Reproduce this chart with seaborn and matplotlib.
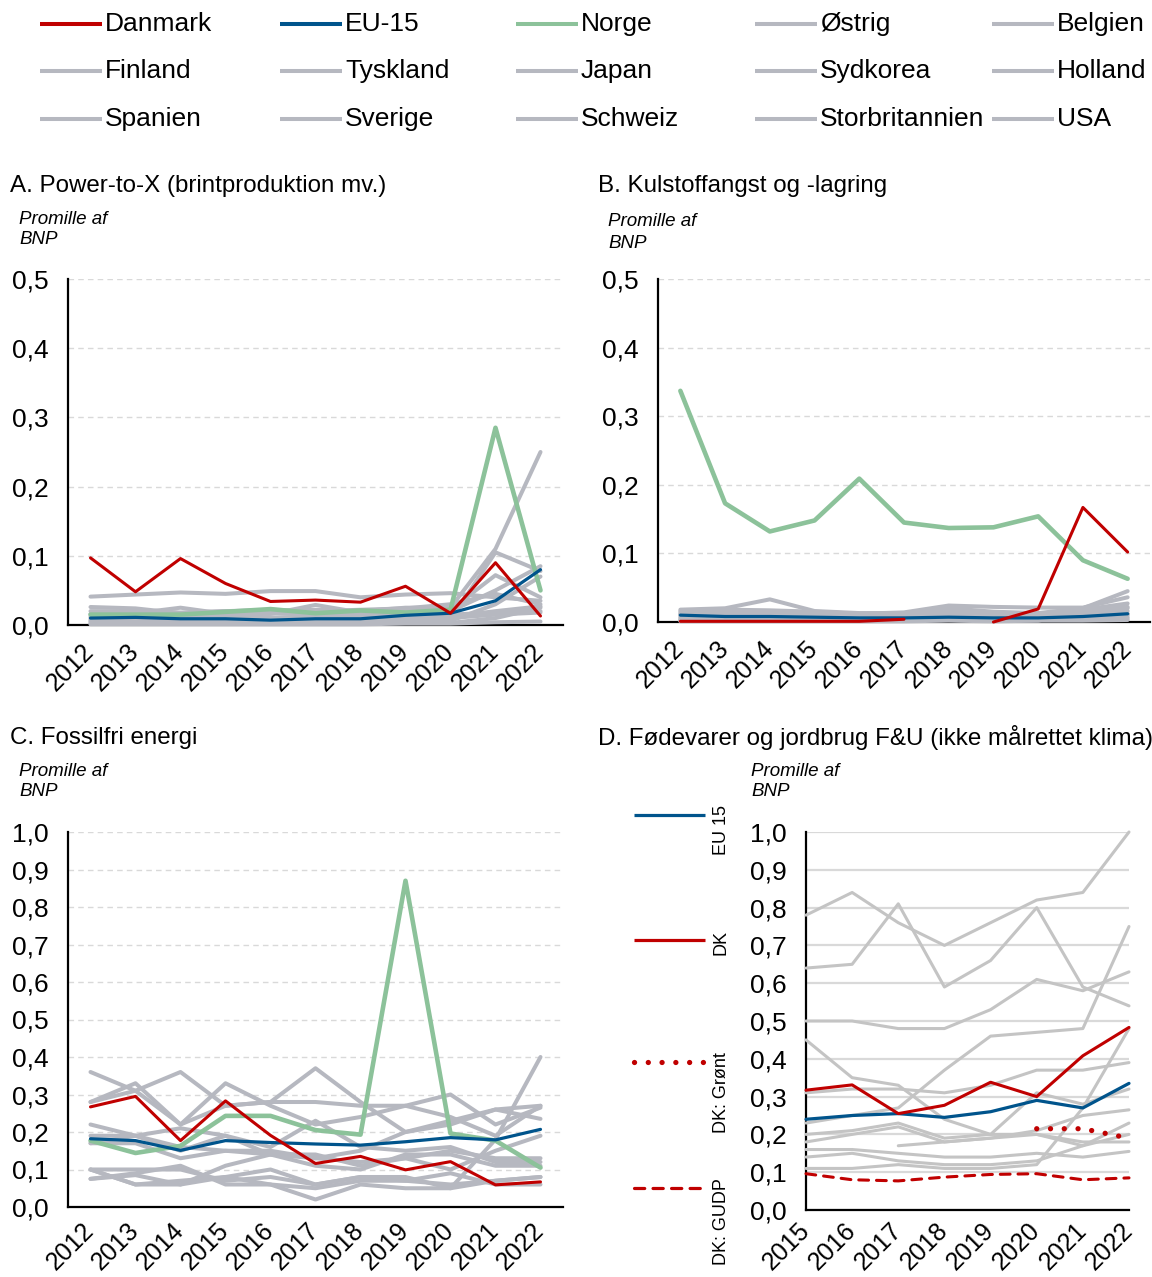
import numpy as np
import pandas as pd
import matplotlib
matplotlib.use("Agg")
import matplotlib.pyplot as plt
from matplotlib.lines import Line2D
from matplotlib.ticker import FuncFormatter
import seaborn as sns

# ---- data (promille af BNP) ----
years = list(range(2012, 2023))
years_d = list(range(2015, 2023))

grey_countries = ["Østrig", "Belgien", "Finland", "Tyskland", "Japan", "Sydkorea",
                  "Holland", "Spanien", "Sverige", "Schweiz", "Storbritannien", "USA"]

# A. Power-to-X
a_danmark = [0.097, 0.048, 0.096, 0.060, 0.034, 0.036, 0.033, 0.056, 0.017, 0.090, 0.013]
a_eu15 = [0.010, 0.011, 0.009, 0.009, 0.007, 0.009, 0.009, 0.014, 0.017, 0.035, 0.080]
a_norge = [0.015, 0.015, 0.015, 0.019, 0.023, 0.017, 0.021, 0.018, 0.022, 0.285, 0.050]
a_others = [
    [0.041, 0.044, 0.047, 0.045, 0.049, 0.049, 0.040, 0.044, 0.046, 0.040, 0.035],
    [0.026, 0.024, 0.017, 0.020, 0.020, 0.022, 0.020, 0.025, 0.025, 0.110, 0.250],
    [0.005, 0.004, 0.004, 0.005, 0.004, 0.004, 0.005, 0.006, 0.008, 0.105, 0.078],
    [0.016, 0.017, 0.025, 0.016, 0.016, 0.029, 0.018, 0.020, 0.022, 0.072, 0.040],
    [0.010, 0.012, 0.013, 0.015, 0.018, 0.014, 0.016, 0.018, 0.020, 0.050, 0.085],
    [0.020, 0.020, 0.018, 0.020, 0.022, 0.020, 0.022, 0.024, 0.030, 0.045, 0.030],
    [0.003, 0.003, 0.004, 0.005, 0.003, 0.003, 0.004, 0.005, 0.006, 0.030, 0.070],
    [0.002, 0.002, 0.002, 0.003, 0.003, 0.002, 0.003, 0.003, 0.003, 0.010, 0.025],
    [0.006, 0.006, 0.007, 0.008, 0.006, 0.007, 0.008, 0.010, 0.012, 0.020, 0.027],
    [0.001, 0.001, 0.001, 0.001, 0.001, 0.001, 0.001, 0.002, 0.002, 0.004, 0.005],
    [0.008, 0.008, 0.009, 0.010, 0.009, 0.010, 0.011, 0.012, 0.010, 0.015, 0.018],
    [0.012, 0.012, 0.011, 0.012, 0.011, 0.012, 0.013, 0.014, 0.015, 0.018, 0.020],
]

# B. Kulstoffangst og -lagring
b_danmark = [0.001, 0.001, 0.001, 0.001, 0.001, 0.004, np.nan, 0.000, 0.019, 0.167, 0.102]
b_eu15 = [0.010, 0.008, 0.008, 0.007, 0.006, 0.006, 0.007, 0.006, 0.006, 0.008, 0.012]
b_norge = [0.337, 0.173, 0.132, 0.148, 0.209, 0.145, 0.137, 0.138, 0.154, 0.090, 0.063]
b_others = [
    [0.018, 0.020, 0.033, 0.016, 0.013, 0.013, 0.020, 0.015, 0.013, 0.020, 0.045],
    [0.016, 0.018, 0.017, 0.015, 0.012, 0.014, 0.024, 0.022, 0.021, 0.021, 0.036],
    [0.012, 0.012, 0.012, 0.010, 0.010, 0.008, 0.014, 0.010, 0.012, 0.018, 0.027],
    [0.010, 0.011, 0.010, 0.009, 0.008, 0.009, 0.015, 0.012, 0.010, 0.012, 0.020],
    [0.008, 0.008, 0.008, 0.008, 0.007, 0.008, 0.010, 0.008, 0.008, 0.010, 0.016],
    [0.006, 0.006, 0.006, 0.005, 0.005, 0.006, 0.008, 0.006, 0.006, 0.008, 0.012],
    [0.004, 0.005, 0.005, 0.004, 0.004, 0.004, 0.006, 0.005, 0.005, 0.006, 0.010],
    [0.003, 0.003, 0.003, 0.003, 0.003, 0.003, 0.004, 0.003, 0.004, 0.005, 0.007],
    [0.002, 0.002, 0.002, 0.002, 0.002, 0.002, 0.003, 0.002, 0.003, 0.003, 0.005],
    [0.014, 0.015, 0.016, 0.014, 0.010, 0.010, 0.004, 0.002, 0.002, 0.015, 0.022],
    [0.001, 0.001, 0.001, 0.001, 0.001, 0.001, 0.002, 0.001, 0.002, 0.002, 0.003],
    [0.011, 0.010, 0.009, 0.009, 0.009, 0.008, 0.010, 0.009, 0.009, 0.010, 0.012],
]

# C. Fossilfri energi
c_danmark = [0.267, 0.295, 0.177, 0.283, 0.191, 0.116, 0.135, 0.099, 0.121, 0.059, 0.067]
c_eu15 = [0.182, 0.177, 0.151, 0.177, 0.172, 0.168, 0.165, 0.174, 0.185, 0.179, 0.207]
c_norge = [0.177, 0.144, 0.163, 0.243, 0.243, 0.205, 0.193, 0.870, 0.196, 0.177, 0.105]
c_others = [
    [0.360, 0.310, 0.220, 0.270, 0.280, 0.280, 0.270, 0.270, 0.240, 0.190, 0.270],
    [0.280, 0.330, 0.220, 0.330, 0.270, 0.220, 0.240, 0.270, 0.300, 0.220, 0.265],
    [0.280, 0.310, 0.360, 0.270, 0.280, 0.370, 0.280, 0.200, 0.220, 0.260, 0.270],
    [0.220, 0.190, 0.160, 0.150, 0.140, 0.130, 0.150, 0.200, 0.230, 0.260, 0.235],
    [0.190, 0.190, 0.210, 0.190, 0.160, 0.230, 0.160, 0.150, 0.160, 0.120, 0.120],
    [0.170, 0.190, 0.150, 0.190, 0.140, 0.140, 0.110, 0.130, 0.150, 0.130, 0.130],
    [0.100, 0.100, 0.100, 0.070, 0.080, 0.060, 0.080, 0.080, 0.050, 0.180, 0.400],
    [0.075, 0.090, 0.110, 0.060, 0.060, 0.020, 0.060, 0.050, 0.050, 0.070, 0.080],
    [0.100, 0.060, 0.060, 0.110, 0.140, 0.110, 0.100, 0.140, 0.140, 0.110, 0.110],
    [0.075, 0.085, 0.060, 0.080, 0.100, 0.060, 0.080, 0.070, 0.060, 0.070, 0.080],
    [0.100, 0.060, 0.070, 0.080, 0.060, 0.050, 0.070, 0.070, 0.090, 0.060, 0.060],
    [0.170, 0.170, 0.130, 0.150, 0.150, 0.130, 0.120, 0.130, 0.100, 0.150, 0.190],
]

# D. Fødevarer og jordbrug F&U (2015-2022)
d_eu15 = [0.240, 0.250, 0.255, 0.245, 0.260, 0.290, 0.270, 0.335]
d_dk = [0.317, 0.331, 0.255, 0.277, 0.338, 0.300, 0.408, 0.483]
d_dk_groent = [np.nan, np.nan, np.nan, np.nan, np.nan, 0.215, 0.215, 0.190]
d_dk_gudp = [0.096, 0.080, 0.077, 0.087, 0.094, 0.096, 0.080, 0.085]
d_others = [
    [0.78, 0.84, 0.76, 0.70, 0.76, 0.82, 0.84, 1.00],
    [0.64, 0.65, 0.81, 0.59, 0.66, 0.80, 0.59, 0.54],
    [0.50, 0.50, 0.48, 0.48, 0.53, 0.61, 0.58, 0.63],
    [0.45, 0.35, 0.33, 0.24, 0.20, 0.20, 0.17, 0.23],
    [0.31, 0.32, 0.32, 0.31, 0.33, 0.37, 0.37, 0.39],
    [0.23, 0.25, 0.27, 0.37, 0.46, 0.47, 0.48, 0.75],
    [0.20, 0.21, 0.23, 0.19, 0.20, 0.31, 0.28, 0.32],
    [0.18, 0.20, 0.22, 0.18, 0.19, 0.21, 0.25, 0.265],
    [np.nan, np.nan, 0.17, 0.18, 0.19, 0.20, 0.18, 0.18],
    [0.16, 0.16, 0.15, 0.14, 0.14, 0.15, 0.14, 0.155],
    [0.14, 0.15, 0.13, 0.12, 0.12, 0.13, 0.17, 0.20],
    [0.11, 0.11, 0.12, 0.11, 0.11, 0.12, 0.27, 0.48],
]

RED = "#C00000"
BLUE = "#00548C"
GREEN = "#8CC29A"
GREY = "#B6B8C0"
GREY_D = "#C4C4C4"
GRID = "#D9D9D9"

sns.set_theme(style="white")
plt.rcParams["font.family"] = ["Liberation Sans", "DejaVu Sans"]
plt.rcParams["text.color"] = "black"
plt.rcParams["xtick.color"] = "black"
plt.rcParams["ytick.color"] = "black"

W, H = 1152, 1277
fig = plt.figure(figsize=(W / 100, H / 100), dpi=100)


def box(l, t, r, b):
    return [l / W, 1 - b / H, (r - l) / W, (b - t) / H]


def fx(x):
    return x / W


def fy(y):
    return 1 - y / H


def draw(ax, x, y, color, lw, z=3, ls=None):
    s = pd.DataFrame({"year": x, "value": y})
    ok = s["value"].notna()
    runs = (~ok).cumsum()
    # break the line where values are missing
    for _, part in s[ok].groupby(runs[ok]):
        sns.lineplot(data=part, x="year", y="value", color=color, lw=lw, ax=ax,
                     zorder=z, clip_on=False, solid_capstyle="round")
        line = ax.lines[-1]
        if ls is not None:
            line.set_linestyle(ls)
            line.set_dash_capstyle("round")


def style(ax, ymax, xlim, xticks, dashed=True, xpad=16):
    ax.set_xlim(*xlim)
    ax.set_ylim(0, ymax)
    ax.set_yticks(np.round(np.arange(0, ymax + 1e-9, 0.1), 1))
    ax.yaxis.set_major_formatter(FuncFormatter(lambda v, p: f"{v:.1f}".replace(".", ",")))
    ax.set_xticks(xticks)
    ax.set_xlabel("")
    ax.set_ylabel("")
    for s in ["top", "right"]:
        ax.spines[s].set_visible(False)
    for s in ["left", "bottom"]:
        ax.spines[s].set_color("black")
        ax.spines[s].set_linewidth(1.6)
        ax.spines[s].set_zorder(2.5)
    if dashed:
        ax.grid(axis="y", color=GRID, lw=1.0, ls=(0, (4, 3)))
    else:
        ax.grid(axis="y", color=GRID, lw=1.6, ls="-")
    ax.grid(axis="x", visible=False)
    ax.set_axisbelow(True)
    ax.tick_params(axis="y", length=0, labelsize=19, pad=14, labelcolor="black")
    ax.tick_params(axis="x", length=0, labelsize=18, pad=xpad, labelcolor="black")
    for lab in ax.get_xticklabels():
        lab.set_rotation(45)
        lab.set_ha("right")
        lab.set_va("center")
        lab.set_rotation_mode("anchor")


def country_panel(ax, dk, eu, no, others, ymax, xpad=16):
    for vals in others:
        draw(ax, years, vals, GREY, 2.9, z=3)
    draw(ax, years, no, GREEN, 3.3, z=4)
    draw(ax, years, eu, BLUE, 2.3, z=5)
    draw(ax, years, dk, RED, 2.2, z=6)
    style(ax, ymax, (2011.5, 2022.5), years, xpad=xpad)


# ---- panels ----
ax_a = fig.add_axes(box(68, 279, 563, 625))
country_panel(ax_a, a_danmark, a_eu15, a_norge, a_others, 0.5)

ax_b = fig.add_axes(box(658, 279, 1150, 622))
country_panel(ax_b, b_danmark, b_eu15, b_norge, b_others, 0.5)

ax_c = fig.add_axes(box(68, 832, 563, 1207))
country_panel(ax_c, c_danmark, c_eu15, c_norge, c_others, 1.0, xpad=14)

ax_d = fig.add_axes(box(806, 832, 1129, 1210))
for vals in d_others:
    draw(ax_d, years_d, vals, GREY_D, 2.2, z=3)
draw(ax_d, years_d, d_dk_gudp, RED, 2.2, z=4, ls=(0, (3.2, 2.6)))
draw(ax_d, years_d, d_dk_groent, RED, 3.8, z=4, ls=(0, (0.01, 2.6)))
draw(ax_d, years_d, d_eu15, BLUE, 2.3, z=5)
draw(ax_d, years_d, d_dk, RED, 2.2, z=6)
style(ax_d, 1.0, (2015, 2022), years_d, dashed=False, xpad=12)

# ---- titles and unit labels ----
titles = [
    (10, 186, "A. Power-to-X (brintproduktion mv.)", 19, 219),
    (598, 186, "B. Kulstoffangst og -lagring", 608, 222),
    (10, 738, "C. Fossilfri energi", 19, 771),
    (598, 738, "D. Fødevarer og jordbrug F&U (ikke målrettet klima)", 751, 771),
]
for tx, ty, txt, ux, uy in titles:
    fig.text(fx(tx), fy(ty), txt, fontsize=17.4, va="center", ha="left")
    fig.text(fx(ux), fy(uy), "Promille af", fontsize=13.5, style="italic", va="center")
    fig.text(fx(ux), fy(uy + 21), "BNP", fontsize=13.5, style="italic", va="center")

# ---- top legend ----
legend_names = ["Danmark", "EU-15", "Norge"] + grey_countries
legend_colors = [RED, BLUE, GREEN] + [GREY] * len(grey_countries)
col_x = [40, 280, 516, 755, 992]
row_y = [24, 71, 119]
for i, (name, col) in enumerate(zip(legend_names, legend_colors)):
    x0 = col_x[i % 5]
    y0 = row_y[i // 5]
    fig.add_artist(Line2D([fx(x0), fx(x0 + 62)], [fy(y0), fy(y0)], color=col, lw=2.9,
                          solid_capstyle="butt", transform=fig.transFigure))
    fig.text(fx(x0 + 65), fy(y0), name, fontsize=19, va="center", ha="left")

# ---- legend for panel D (rotated labels) ----
d_leg = [
    ("EU 15", BLUE, "-", 815),
    ("DK", RED, "-", 940),
    ("DK: Grønt", RED, (0, (0.01, 2.6)), 1062),
    ("DK: GUDP", RED, (0, (3.2, 2.6)), 1188),
]
for name, col, ls, ly in d_leg:
    lw = 3.8 if name == "DK: Grønt" else 2.3
    ln = Line2D([fx(634), fx(705)], [fy(ly), fy(ly)], color=col, lw=lw, linestyle=ls,
                dash_capstyle="round", solid_capstyle="butt", transform=fig.transFigure)
    fig.add_artist(ln)
    fig.text(fx(721), fy(ly - 10), name, fontsize=13, rotation=90, ha="center", va="top")

fig.savefig("out.png", dpi=100, facecolor="white")
